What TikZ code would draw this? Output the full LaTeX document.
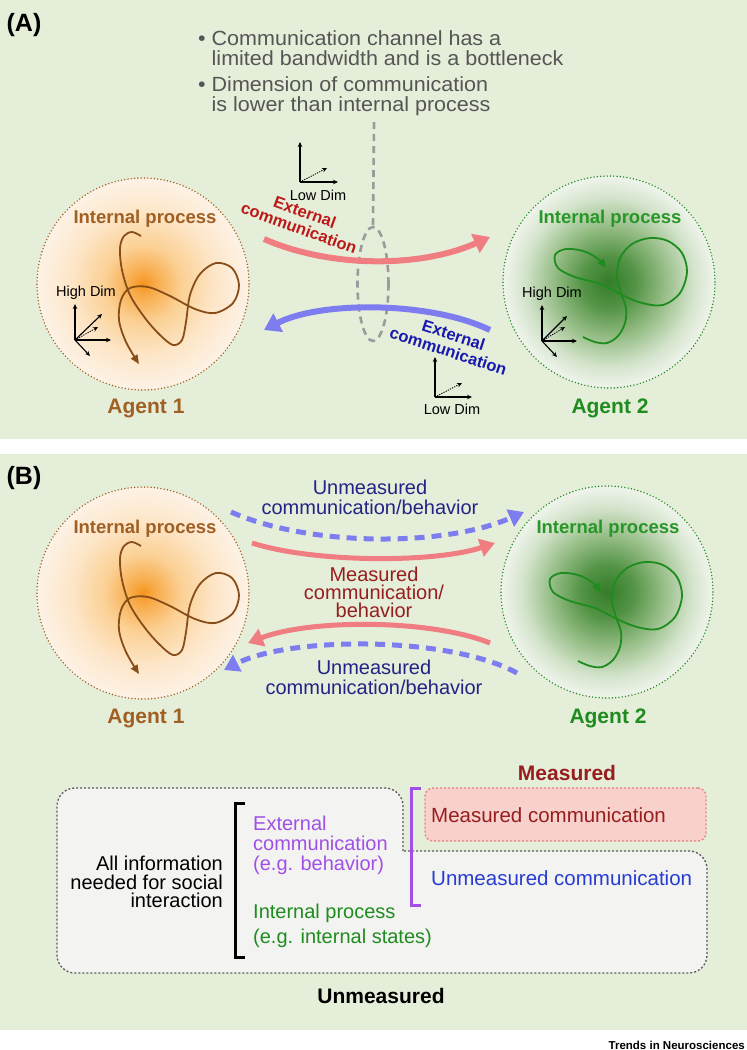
\documentclass[tikz,border=0pt]{standalone}
\usepackage{fontspec}
\setmainfont{Liberation Sans}
\newfontfamily\bulletfont[FakeStretch=1.05]{Liberation Sans}
\usetikzlibrary{arrows.meta,shapes.geometric}

\definecolor{panelbg}{RGB}{229,238,217}
\definecolor{brownc}{RGB}{160,95,35}
\definecolor{curvebrown}{RGB}{135,78,25}
\definecolor{greentxt}{RGB}{40,150,40}
\definecolor{curvegreen}{RGB}{30,140,30}
\definecolor{redarrow}{RGB}{240,125,130}
\definecolor{bluearrow}{RGB}{125,125,240}
\definecolor{redlabel}{RGB}{190,25,25}
\definecolor{bluelabel}{RGB}{25,25,175}
\definecolor{darkred}{RGB}{150,30,30}
\definecolor{navy}{RGB}{35,35,135}
\definecolor{chgray}{RGB}{155,155,155}
\definecolor{textgray}{RGB}{85,85,85}
\definecolor{purp}{RGB}{160,80,230}
\definecolor{ublue}{RGB}{40,60,210}
\definecolor{boxfill}{RGB}{243,243,241}
\definecolor{boxedge}{RGB}{90,90,90}
\definecolor{pinkfill}{RGB}{248,208,204}
\definecolor{pinkedge}{RGB}{232,128,128}
\definecolor{or0}{RGB}{245,148,30}
\definecolor{or1}{RGB}{248,172,75}
\definecolor{or2}{RGB}{251,208,148}
\definecolor{or3}{RGB}{253,230,200}
\definecolor{or4}{RGB}{253,242,230}
\definecolor{gr0}{RGB}{52,125,42}
\definecolor{gr1}{RGB}{82,146,68}
\definecolor{gr2}{RGB}{148,188,132}
\definecolor{gr3}{RGB}{212,228,204}
\definecolor{gr4}{RGB}{240,244,236}

\pgfdeclareradialshading{orangeglow}{\pgfpoint{0bp}{0bp}}{color(0bp)=(or0); color(3bp)=(or1); color(9bp)=(or2); color(17bp)=(or3); color(25bp)=(or4); color(50bp)=(or4)}
\pgfdeclareradialshading{greenglow}{\pgfpoint{0bp}{0bp}}{color(0bp)=(gr0); color(6bp)=(gr1); color(13bp)=(gr2); color(20bp)=(gr3); color(25bp)=(gr4); color(50bp)=(gr4)}

\newcommand\myfs[2]{\fontsize{#1}{#2}\selectfont}

\begin{document}
\begin{tikzpicture}[x=1pt,y=-1pt,
  dotline/.style={line width=1.6pt, dash pattern=on 0pt off 3.3pt, line cap=round},
  agentA/.style={circle, minimum size=212pt, inner sep=0pt, shade, shading=orangeglow, draw=brownc, dotline},
  agentB/.style={circle, minimum size=212pt, inner sep=0pt, shade, shading=greenglow, draw=curvegreen, dotline},
  lab/.style={inner sep=0pt, font=\bfseries\myfs{18.5}{20}},
  agentlab/.style={inner sep=0pt, font=\bfseries\myfs{21}{22}},
  bcurve/.style={curvebrown, line width=1.8pt, -{Triangle[length=9pt,width=7.5pt]}},
  gcurve/.style={curvegreen, line width=1.8pt, -{Triangle[length=9pt,width=7.5pt]}},
  axis/.style={line width=1.1pt, -{Stealth[length=5pt,width=4.5pt]}},
  daxis/.style={line width=0.9pt, dash pattern=on 1.2pt off 1.2pt, -{Stealth[length=5pt,width=4.5pt]}},
  dimlab/.style={inner sep=0pt, font=\myfs{14.5}{16}},
  chdash/.style={line width=2.6pt, dash pattern=on 7pt off 5pt},
  fatA/.style={line width=6pt, -{Triangle[length=16pt,width=20pt]}},
  fatB/.style={line width=5pt, -{Triangle[length=15pt,width=18pt]}},
  dashB/.style={line width=5pt, dash pattern=on 10pt off 7pt, -{Triangle[length=15pt,width=18pt]}},
  reg/.style={inner sep=0pt, font=\myfs{20}{20}},
]
\useasboundingbox (0,0) rectangle (747,1050);
\fill[panelbg] (0,0) rectangle (747,439);
\fill[panelbg] (0,454) rectangle (747,1030);

%% ---------------- Panel A ----------------
\node[inner sep=0pt, font=\bfseries\myfs{25}{26}] (labA) at (24,25) {(A)};
\node[inner sep=0pt, align=left, anchor=west, text=textgray, font={\bulletfont\myfs{20.5}{19.5}}] (bul) at (198,73)
  {\textbullet\ Communication channel has a\\
   \phantom{\textbullet\ }limited bandwidth and is a bottleneck\\[7pt]
   \textbullet\ Dimension of communication\\
   \phantom{\textbullet\ }is lower than internal process};

% agents
\node[agentA] (c1) at (143,284) {};
\node[lab, text=brownc] (ip1) at (145,219) {Internal process};
\node[agentlab, text=brownc] (ag1) at (146,408) {Agent 1};
\draw[bcurve] plot[smooth, tension=0.55] coordinates {(141,236) (132,232) (124,236) (120,248) (122,270) (130,295) (145,318) (160,335) (173,345) (182,340) (186,322) (190,295) (200,274) (216,263) (232,268) (239,285) (233,303) (215,313) (195,309) (170,296) (148,287) (130,288) (121,300) (119,320) (126,342) (139,364)};

\node[agentB] (c2) at (609,282) {};
\node[lab, text=greentxt] (ip2) at (610,219) {Internal process};
\node[agentlab, text=curvegreen] (ag2) at (610,408) {Agent 2};
\draw[gcurve] plot[smooth, tension=0.55] coordinates {(583,337) (595,342) (607,343) (618,336) (625,323) (626,308) (621,293) (617,277) (620,258) (632,244) (650,238) (668,241) (682,253) (687,272) (680,293) (663,305) (642,303) (622,295) (600,284) (575,277) (558,268) (555,255) (566,249) (583,251) (597,258) (606,268)};

% high dim axes
\node[dimlab] (hd1) at (86,293) {High Dim};
\coordinate (o1) at (75,340);
\draw[axis] (o1) -- ++(0,-36);
\draw[axis] (o1) -- ++(36,0);
\draw[axis] (o1) -- ++(15,16);
\draw[axis] (o1) -- ++(27,-26);
\draw[daxis] (o1) -- ++(23,-13);

\node[dimlab] (hd2) at (552,294) {High Dim};
\coordinate (o2) at (542,341);
\draw[axis] (o2) -- ++(0,-36);
\draw[axis] (o2) -- ++(35,0);
\draw[axis] (o2) -- ++(15,16);
\draw[axis] (o2) -- ++(25,-25);
\draw[daxis] (o2) -- ++(23,-14);

% low dim axes
\node[dimlab] (ld1) at (318,195) {Low Dim};
\coordinate (o3) at (300,182);
\draw[axis] (o3) -- ++(0,-40);
\draw[axis] (o3) -- ++(38,0);
\draw[daxis] (o3) -- ++(27,-14);

\node[dimlab] (ld2) at (452,409) {Low Dim};
\coordinate (o4) at (435,397);
\draw[axis] (o4) -- ++(0,-40);
\draw[axis] (o4) -- ++(37,0);
\draw[daxis] (o4) -- ++(27,-14);

% channel
\node[ellipse, minimum width=31pt, minimum height=114pt, inner sep=0pt, draw=chgray, chdash] (ch) at (373,284) {};
\coordinate (chtop) at (374,122);
\draw[chgray, chdash] (chtop) -- (ch.north);

% external communication arrows
\coordinate (ra1) at (264,239); \coordinate (ra2) at (490,237);
\draw[redarrow, fatA] (ra1) .. controls (330,268) and (420,268) .. (ra2);
\coordinate (ba1) at (490,330); \coordinate (ba2) at (264,330);
\draw[bluearrow, fatA] (ba1) .. controls (430,301) and (320,301) .. (ba2);
\node[rotate=-20, align=center, inner sep=0pt, font=\bfseries\myfs{16.5}{17}, text=redlabel] (rl) at (302,220) {External\\communication};
\node[rotate=-18, align=center, inner sep=0pt, font=\bfseries\myfs{16.5}{17}, text=bluelabel] (bl) at (451,343) {External\\communication};

%% ---------------- Panel B ----------------
\node[inner sep=0pt, font=\bfseries\myfs{25}{26}] (labB) at (24,478) {(B)};

\node[agentA] (c1b) at (143,593) {};
\node[lab, text=brownc] (ip1b) at (145,529) {Internal process};
\node[agentlab, text=brownc] (ag1b) at (146,718) {Agent 1};
\begin{scope}[shift={(0,310)}]
\draw[bcurve] plot[smooth, tension=0.55] coordinates {(141,236) (132,232) (124,236) (120,248) (122,270) (130,295) (145,318) (160,335) (173,345) (182,340) (186,322) (190,295) (200,274) (216,263) (232,268) (239,285) (233,303) (215,313) (195,309) (170,296) (148,287) (130,288) (121,300) (119,320) (126,342) (139,364)};
\end{scope}

\node[agentB] (c2b) at (607,592) {};
\node[lab, text=greentxt] (ip2b) at (608,529) {Internal process};
\node[agentlab, text=curvegreen] (ag2b) at (608,718) {Agent 2};
\begin{scope}[shift={(-5,324)}]
\draw[gcurve] plot[smooth, tension=0.55] coordinates {(583,337) (595,342) (607,343) (618,336) (625,323) (626,308) (621,293) (617,277) (620,258) (632,244) (650,238) (668,241) (682,253) (687,272) (680,293) (663,305) (642,303) (622,295) (600,284) (575,277) (558,268) (555,255) (566,249) (583,251) (597,258) (606,268)};
\end{scope}

\coordinate (ub1) at (231,512); \coordinate (ub2) at (524,512);
\draw[bluearrow, dashB] (ub1) .. controls (310,547) and (445,547) .. (ub2);
\coordinate (mr1) at (252,543); \coordinate (mr2) at (495,543);
\draw[redarrow, fatB] (mr1) .. controls (315,563) and (435,563) .. (mr2);
\coordinate (mr3) at (490,643); \coordinate (mr4) at (248,643);
\draw[redarrow, fatB] (mr3) .. controls (430,619) and (310,619) .. (mr4);
\coordinate (ub3) at (517,673); \coordinate (ub4) at (224,670);
\draw[bluearrow, dashB] (ub3) .. controls (450,636) and (290,636) .. (ub4);

\node[reg, align=center, text=navy] (ul1) at (370,497) {Unmeasured\\communication/behavior};
\node[reg, align=center, text=darkred, font=\myfs{20}{18}] (ml) at (374,592) {Measured\\communication/\\behavior};
\node[reg, align=center, text=navy] (ul2) at (374,677) {Unmeasured\\communication/behavior};

% information box
\path[fill=boxfill, draw=boxedge, line width=1.3pt, dash pattern=on 2pt off 2pt, rounded corners=18pt]
  (403,851) -- (403,788) -- (57,788) -- (57,973) -- (707,973) -- (707,851) -- (403,851);
\node[draw=pinkedge, fill=pinkfill, line width=1.3pt, dash pattern=on 2pt off 2pt, rounded corners=8pt, minimum width=281pt, minimum height=53pt, inner sep=0pt] (mbox) at (565.5,814.5) {};
\node[inner sep=0pt, font=\bfseries\myfs{21}{22}, text=darkred] (meas) at (567,773) {Measured};
\node[reg, anchor=west, text=darkred, font=\myfs{20.5}{21}] (mc) at (431,815) {Measured communication};
\node[reg, anchor=west, text=ublue, font=\myfs{20.5}{21}] (uc) at (431,878) {Unmeasured communication};
\node[inner sep=0pt, font=\bfseries\myfs{21}{22}] (unm) at (381,996) {Unmeasured};

% brackets
\coordinate (pb1) at (421,788); \coordinate (pb2) at (421,905);
\draw[purp, line width=3pt] (pb1) -- ++(-10,0) |- (pb2);
\coordinate (kb1) at (245,803); \coordinate (kb2) at (245,957);
\draw[black, line width=3pt] (kb1) -- ++(-10,0) |- (kb2);

\node[reg, align=right, anchor=east, font=\myfs{20}{18.5}] (allinfo) at (223,882) {All information\\needed for social\\interaction};
\node[reg, align=left, anchor=west, text=purp] (ext) at (253,845) {External\\communication\\(e.g. behavior)};
\node[reg, align=left, anchor=west, text=curvegreen, font=\myfs{20}{25}] (intp) at (253,926) {Internal process\\(e.g. internal states)};

\node[inner sep=0pt, anchor=east, font=\bfseries\myfs{11.5}{12}] (trends) at (745,1045) {Trends in Neurosciences};
\end{tikzpicture}
\end{document}
